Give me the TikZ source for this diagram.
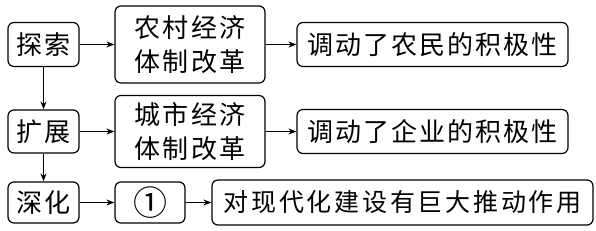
\documentclass[tikz,border=0pt]{standalone}
\usepackage{fontspec}
\usetikzlibrary{arrows.meta}
\newfontfamily\cjk[LetterSpace=8]{Noto Sans CJK SC}
\newfontfamily\cjkwide[LetterSpace=11]{Noto Sans CJK SC}
\tikzset{
  box/.style={draw, line width=1.2pt, rounded corners=6pt, inner sep=0pt, align=center,
    font=\cjk\fontsize{26}{34}\selectfont},
  arr/.style={line width=1.2pt, -{Stealth[length=8pt,width=6pt]}}
}
\begin{document}
\begin{tikzpicture}[x=1pt,y=-1pt]
\useasboundingbox (0,0) rectangle (596,230);
\node[box, minimum width=71pt, minimum height=44pt] (tansuo) at (43.5,44.5) {探索};
\node[box, minimum width=150pt, minimum height=77pt] (nongcun) at (190,44.5) {农村经济\\体制改革};
\node[box, minimum width=271pt, minimum height=44pt] (r1) at (432.5,44.5) {调动了农民的积极性};
\node[box, minimum width=71pt, minimum height=43pt] (kuozhan) at (43.5,131.5) {扩展};
\node[box, minimum width=150pt, minimum height=72pt] (chengshi) at (190,131.5) {城市经济\\体制改革};
\node[box, minimum width=271pt, minimum height=44pt] (r2) at (432.5,131.5) {调动了企业的积极性};
\node[box, minimum width=71pt, minimum height=41pt] (shenhua) at (43.5,202.5) {深化};
\node[box, minimum width=70pt, minimum height=41pt, font=\cjk\fontsize{34}{34}\selectfont] (one) at (150,202.5) {①};
\node[box, minimum width=381pt, minimum height=45pt, font=\cjkwide\fontsize{25}{34}\selectfont] (r3) at (402.5,202.5) {对现代化建设有巨大推动作用};
\draw[arr] (tansuo) -- (nongcun);
\draw[arr] (nongcun) -- (r1);
\draw[arr] (kuozhan) -- (chengshi);
\draw[arr] (chengshi) -- (r2);
\draw[arr] (shenhua) -- (one);
\draw[arr] (one) -- (r3);
\draw[arr] (tansuo) -- (kuozhan);
\draw[arr] (kuozhan) -- (shenhua);
\end{tikzpicture}
\end{document}
